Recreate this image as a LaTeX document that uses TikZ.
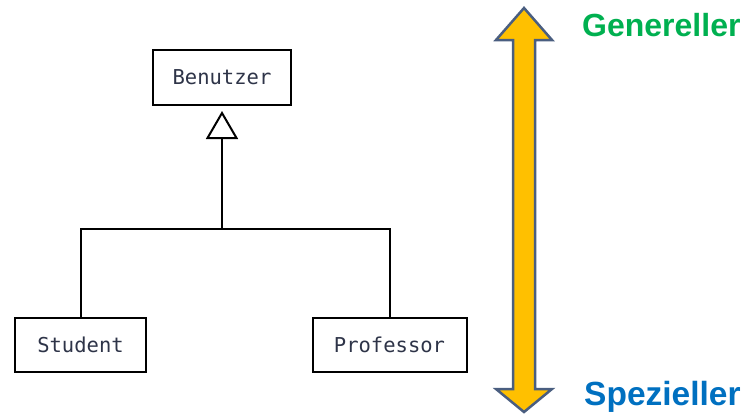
\documentclass[tikz,border=0pt]{standalone}
\usepackage{fontspec}
\setmainfont{Liberation Sans}
\newfontfamily\monofont{DejaVu Sans Mono}
\usetikzlibrary{arrows.meta}
\definecolor{arrowfill}{HTML}{FFC000}
\definecolor{arrowline}{HTML}{4A5E80}
\definecolor{gengreen}{HTML}{00B050}
\definecolor{spezblue}{HTML}{0070C0}
\definecolor{classtext}{HTML}{2E3448}
\tikzset{
  classbox/.style={draw=black, line width=2pt, fill=white, inner sep=0pt, minimum height=54pt,
    font=\monofont\fontsize{20.5}{22}\selectfont, text=classtext},
  conn/.style={draw=black, line width=2pt},
  gentip/.style={conn, -{Triangle[open, length=28pt, width=32pt, line width=2pt]}, shorten >=5pt},
  biglabel/.style={font=\bfseries, inner sep=0pt, anchor=base west}
}
\begin{document}
\begin{tikzpicture}[x=1pt,y=-1pt]
\useasboundingbox (0,0) rectangle (744,416);
\node[classbox, minimum width=138pt, minimum height=55pt] (ben) at (222,77.5) {Benutzer};
\node[classbox, minimum width=131pt] (stu) at (80.5,345) {Student};
\node[classbox, minimum width=154pt] (prof) at (389.5,345) {Professor};
\coordinate (j) at (222,229);
\draw[conn] (stu.north) |- (j) -| (prof.north);
\draw[gentip] (j) -- (ben.south);
% double arrow
\draw[line width=2.5pt, draw=arrowline, fill=arrowfill, line join=miter]
  (524,8) -- (552,40) -- (535,40) -- (535,389) -- (552,389) -- (524,412)
  -- (496,389) -- (513,389) -- (513,40) -- (496,40) -- cycle;
\node[biglabel, text=gengreen, font=\bfseries\fontsize{32}{34}\selectfont] (gen) at (582,36) {Genereller};
\node[biglabel, text=spezblue, font=\bfseries\fontsize{33.5}{35}\selectfont] (spez) at (584,405) {Spezieller};
\end{tikzpicture}
\end{document}
